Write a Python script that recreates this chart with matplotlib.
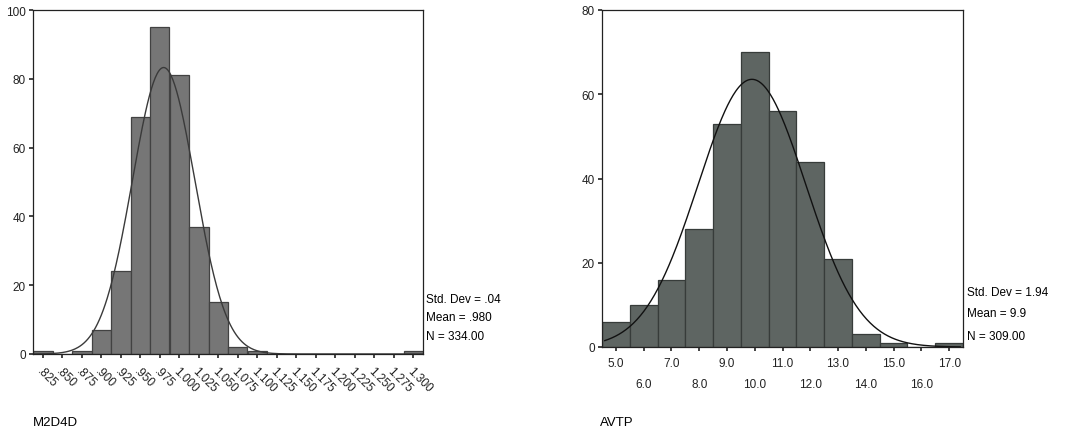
import numpy as np
import matplotlib
matplotlib.use("Agg")
import matplotlib.pyplot as plt

plt.rcParams['font.family'] = ['Liberation Sans', 'DejaVu Sans']

# M2D4D histogram (bin centres, counts)
m2d4d_bins = [0.825, 0.850, 0.875, 0.900, 0.925, 0.950, 0.975, 1.000, 1.025, 1.050,
              1.075, 1.100, 1.125, 1.150, 1.175, 1.200, 1.225, 1.250, 1.275, 1.300]
m2d4d_counts = [1, 0, 1, 7, 24, 69, 95, 81, 37, 15, 2, 1, 0, 0, 0, 0, 0, 0, 0, 1]
m2d4d_labels = [".825", ".850", ".875", ".900", ".925", ".950", ".975", "1.000", "1.025",
                "1.050", "1.075", "1.100", "1.125", "1.150", "1.175", "1.200", "1.225",
                "1.250", "1.275", "1.300"]
m2d4d_stats = {"sd": 0.04, "mean": 0.980, "n": 334}

# AVTP histogram
avtp_bins = [5, 6, 7, 8, 9, 10, 11, 12, 13, 14, 15, 16, 17]
avtp_counts = [6, 10, 16, 28, 53, 70, 56, 44, 21, 3, 1, 0, 1]
avtp_stats = {"sd": 1.94, "mean": 9.9, "n": 309}

fig = plt.figure(figsize=(10.73, 4.35), dpi=100)
W, H = 1073, 435


def px_axes(x0, y0, x1, y1):
    return fig.add_axes([x0 / W, 1 - y1 / H, (x1 - x0) / W, (y1 - y0) / H])


def style(ax):
    for s in ax.spines.values():
        s.set_linewidth(0.9)
        s.set_color("#222222")
    ax.tick_params(direction="out", length=3, width=1.2, colors="#222222",
                   labelsize=8.5, pad=2)


def normal_curve(ax, stats, width, lo, hi, color):
    x = np.linspace(lo, hi, 400)
    y = stats["n"] * width / (stats["sd"] * np.sqrt(2 * np.pi)) * \
        np.exp(-0.5 * ((x - stats["mean"]) / stats["sd"]) ** 2)
    ax.plot(x, y, color=color, lw=1.0)


# ---- left panel
ax1 = px_axes(33, 11, 423, 355)
w1 = 0.025
ax1.bar(m2d4d_bins, m2d4d_counts, width=w1, color="#767676", edgecolor="#424242",
        linewidth=0.9)
normal_curve(ax1, m2d4d_stats, w1, 0.8125, 1.3125, "#3a3a3a")
ax1.set_xlim(0.8125, 1.3125)
ax1.set_ylim(0, 100)
ax1.set_yticks([0, 20, 40, 60, 80, 100])
ax1.set_xticks(m2d4d_bins)
ax1.set_xticklabels(m2d4d_labels, rotation=-45, ha="left", va="top",
                    rotation_mode="anchor")
style(ax1)
ax1.tick_params(axis="x", pad=5)
for t, y in [("Std. Dev = .04", 0.160), ("Mean = .980", 0.107), ("N = 334.00", 0.052)]:
    ax1.text(1.008, y, t, transform=ax1.transAxes, fontsize=8.5, va="center")
fig.text(33 / W, 1 - 426 / H, "M2D4D", fontsize=9.5)

# ---- right panel
ax2 = px_axes(602, 11, 963, 348)
w2 = 1.0
ax2.bar(avtp_bins, avtp_counts, width=w2, color="#5e6562", edgecolor="#373c3a",
        linewidth=0.9)
normal_curve(ax2, avtp_stats, w2, 4.6, 17.4, "#111111")
ax2.set_xlim(4.5, 17.5)
ax2.set_ylim(0, 80)
ax2.set_yticks([0, 20, 40, 60, 80])
ax2.set_xticks(avtp_bins)
ax2.set_xticklabels([f"{b:.1f}" if i % 2 == 0 else f"\n{b:.1f}"
                     for i, b in enumerate(avtp_bins)], linespacing=2.0)
style(ax2)
ax2.tick_params(axis="x", pad=4)
for t, y in [("Std. Dev = 1.94", 0.163), ("Mean = 9.9", 0.100), ("N = 309.00", 0.033)]:
    ax2.text(1.012, y, t, transform=ax2.transAxes, fontsize=8.5, va="center")
fig.text(600 / W, 1 - 426 / H, "AVTP", fontsize=9.5)

fig.savefig("out.png", dpi=100)
